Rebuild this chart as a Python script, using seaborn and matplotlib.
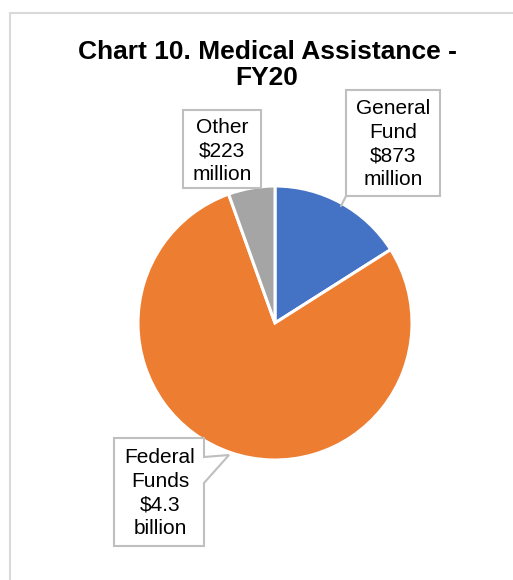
import matplotlib
matplotlib.use("Agg")
import matplotlib.pyplot as plt
import seaborn as sns
from matplotlib.patches import Rectangle, Polygon
from matplotlib.lines import Line2D

sns.set_style("white")
plt.rcParams['font.family'] = ['Liberation Sans', 'DejaVu Sans']
plt.rcParams['text.color'] = 'black'

categories = ["General Fund", "Federal Funds", "Other"]
values = [873, 4283, 300]  # $ millions, as drawn in the picture
label_texts = ["General\nFund\n$873\nmillion", "Federal\nFunds\n$4.3\nbillion", "Other\n$223\nmillion"]
colors = ["#4472C4", "#ED7D31", "#A5A5A5"]
title = "Chart 10. Medical Assistance -\nFY20"

W, H = 513, 580
fig = plt.figure(figsize=(W / 100, H / 100), dpi=100)

def fx(x):
    return x / W

def fy(y):
    return 1 - y / H

# outer chart frame (cropped at right/bottom)
fig.patches.append(Rectangle((fx(10), fy(700)), 600 / W, (700 - 13) / H,
                             transform=fig.transFigure, fill=False,
                             edgecolor="#D9D9D9", linewidth=1.5))

cx, cy, r = 275, 323, 137
ax = fig.add_axes([fx(cx - r), fy(cy + r), 2 * r / W, 2 * r / H])
ax.pie(values, colors=colors, startangle=90, counterclock=False,
       wedgeprops=dict(edgecolor="white", linewidth=2.2))
ax.set_xlim(-1, 1)
ax.set_ylim(-1, 1)
ax.axis("off")

fig.text(fx(267), fy(65), title, ha="center", va="center", fontsize=19,
         fontweight="bold", linespacing=1.12, color="black")

edge = "#BFBFBF"

def box(x0, y0, x1, y1, text, tx, ty, pointer=None):
    if pointer is None:
        pts = [(x0, y0), (x1, y0), (x1, y1), (x0, y1)]
    else:
        pts = [(x0, y0), (x1, y0)] + pointer + [(x1, y1), (x0, y1)]
    poly = Polygon([(fx(a), fy(b)) for a, b in pts], closed=True,
                   transform=fig.transFigure, facecolor="white",
                   edgecolor=edge, linewidth=1.5, zorder=5)
    fig.patches.append(poly)
    fig.text(fx(tx), fy(ty), text, ha="center", va="center", fontsize=15,
             linespacing=1.3, zorder=6, color="black")

# General Fund
box(346, 90, 440, 196, label_texts[0], 393, 144)
fig.lines.append(Line2D([fx(347), fx(341)], [fy(194), fy(206)],
                        transform=fig.transFigure, color=edge, linewidth=1.5, zorder=4))
# Other
box(183, 110, 261, 188, label_texts[2], 222, 151)
# Federal Funds
box(114, 438, 204, 546, label_texts[1], 160, 493,
    pointer=[(204, 457), (229, 455), (204, 483)])

fig.savefig("out.png", dpi=100)
